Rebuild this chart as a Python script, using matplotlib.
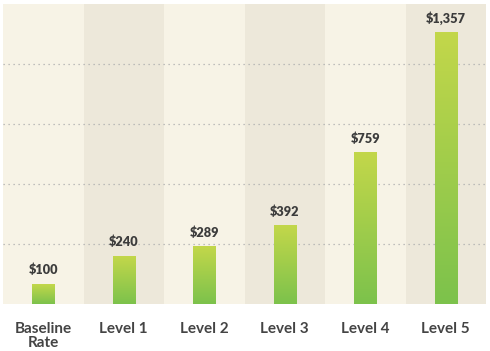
import numpy as np
import matplotlib
matplotlib.use('Agg')
import matplotlib.pyplot as plt
from matplotlib.colors import LinearSegmentedColormap

categories = ['Baseline\nRate', 'Level 1', 'Level 2', 'Level 3', 'Level 4', 'Level 5']
values = [100, 240, 289, 392, 759, 1357]
value_labels = ['$100', '$240', '$289', '$392', '$759', '$1,357']
grid_levels = [300, 600, 900, 1200]

light_band = '#F7F3E6'
dark_band = '#EDE8DA'
text_color = '#3C3C3C'
bar_cmap = LinearSegmentedColormap.from_list('bar', ['#7CC24C', '#C3D74A'])
font = ['Lato', 'DejaVu Sans']

fig = plt.figure(figsize=(4.9, 3.51), dpi=100)
ax = fig.add_axes([3 / 490, 1 - 304 / 351, 483 / 490, 300 / 351])

x = np.arange(len(categories))
bar_w = 0.275

# alternating column bands
for i in x:
    ax.axvspan(i - 0.5, i + 0.5, color=light_band if i % 2 == 0 else dark_band, zorder=0, lw=0)

for g in grid_levels:
    ax.axhline(g, color='#ADADAD', lw=0.9, ls=(0, (1, 3)), zorder=1)

# gradient bars
grad = np.linspace(0, 1, 256).reshape(-1, 1)
for xi, v, lab in zip(x, values, value_labels):
    ax.imshow(grad, cmap=bar_cmap, origin='lower', aspect='auto',
              extent=(xi - bar_w / 2, xi + bar_w / 2, 0, v), zorder=2)
    ax.text(xi, v + 38, lab, ha='center', va='bottom', fontsize=9.2,
            fontweight='heavy', family=font, color=text_color, zorder=3)

ax.set_xlim(-0.5, len(categories) - 0.5)
ax.set_ylim(0, 1500)
ax.set_xticks(x)
ax.set_xticklabels(categories, fontsize=11, fontweight='bold', family=font,
                   color='#444444', linespacing=1.0, va='top')
ax.tick_params(axis='x', length=0, pad=13)
ax.set_yticks([])
for s in ax.spines.values():
    s.set_visible(False)

plt.savefig('out.png', dpi=100)
